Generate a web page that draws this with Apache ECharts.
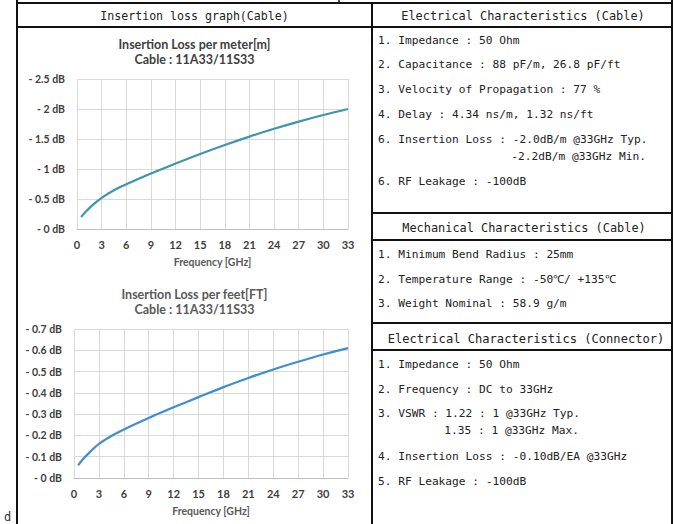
<!DOCTYPE html>
<html>
<head>
<meta charset="utf-8">
<script src="https://cdn.jsdelivr.net/npm/echarts@6/dist/echarts.min.js"></script>
<style>
html,body{margin:0;padding:0;background:#fff;}
#main{width:675px;height:524px;}
</style>
</head>
<body>
<div id="main"></div>
<script>
// ---- data ----
const freqGHz      = [0.5, 1, 2, 3, 4.5, 6, 9, 12, 15, 18, 21, 24, 27, 30, 33];
const lossPerMeter = [0.20, 0.28, 0.41, 0.52, 0.645, 0.745, 0.925, 1.09, 1.25, 1.40, 1.54, 1.67, 1.79, 1.90, 2.00];
const lossPerFoot  = [0.06, 0.085, 0.125, 0.16, 0.197, 0.228, 0.282, 0.332, 0.38, 0.427, 0.47, 0.51, 0.546, 0.58, 0.61];

const chartTitles = [
  ['Insertion Loss per meter[m]', 'Cable : 11A33/11S33'],
  ['Insertion Loss per feet[FT]', 'Cable : 11A33/11S33']
];
const xAxisName = 'Frequency [GHz]';

const leftHeader = 'Insertion loss graph(Cable)';
const elecCableHeader = 'Electrical Characteristics (Cable)';
const elecCableItems = [
  '1. Impedance : 50 Ohm',
  '2. Capacitance : 88 pF/m, 26.8 pF/ft',
  '3. Velocity of Propagation : 77 %',
  '4. Delay : 4.34 ns/m, 1.32 ns/ft',
  '6. Insertion Loss : -2.0dB/m @33GHz Typ.',
  '-2.2dB/m @33GHz Min.',
  '6. RF Leakage : -100dB'
];
const mechHeader = 'Mechanical Characteristics (Cable)';
const mechItems = [
  '1. Minimum Bend Radius : 25mm',
  '2. Temperature Range : -50℃/ +135℃',
  '3. Weight Nominal : 58.9 g/m'
];
const connHeader = 'Electrical Characteristics (Connector)';
const connItems = [
  '1. Impedance : 50 Ohm',
  '2. Frequency : DC to 33GHz',
  '3. VSWR : 1.22 : 1 @33GHz Typ.',
  '1.35 : 1 @33GHz Max.',
  '4. Insertion Loss : -0.10dB/EA @33GHz',
  '5. RF Leakage : -100dB'
];

// ---- layout ----
const MONO = "'DejaVu Sans Mono', 'Liberation Mono', monospace";
const CHF = "Lato, 'Open Sans', sans-serif";
const elecY = [40, 64, 89, 114, 139, 156, 181];
const elecX = [378, 378, 378, 378, 378, 646, 378];
const elecAlign = ['left', 'left', 'left', 'left', 'left', 'right', 'left'];
const mechY = [254, 279, 303];
const connY = [364, 389, 413, 430, 456, 481];
const connX = [378, 378, 378, 579, 378, 378];
const connAlign = ['left', 'left', 'left', 'right', 'left', 'left'];

function txt(x, y, s, opt) {
  return {
    type: 'text', x: x, y: y, silent: true,
    style: Object.assign({ text: s, fill: '#222', font: '11.2px ' + MONO, textVerticalAlign: 'middle', textAlign: 'left' }, opt || {})
  };
}
function ln(x1, y1, x2, y2, w) {
  return { type: 'line', silent: true, shape: { x1: x1, y1: y1, x2: x2, y2: y2 }, style: { stroke: '#111', lineWidth: w || 1.8 } };
}

const graphics = [];
// table lines
graphics.push(ln(17, 3, 673, 3, 2));
graphics.push(ln(17, 27, 673, 27, 1.8));
graphics.push(ln(17, 0, 17, 524, 2));
graphics.push(ln(372, 3, 372, 524, 2));
graphics.push(ln(672, 0, 672, 524, 2));
graphics.push(ln(339, 0, 339, 3, 1.5));
[213, 240, 323, 350].forEach(y => graphics.push(ln(372, y, 672, y, 1.8)));

// headers
graphics.push(txt(194.5, 16, leftHeader, { textAlign: 'center', font: '11.6px ' + MONO }));
graphics.push(txt(523, 16, elecCableHeader, { textAlign: 'center', font: '11.9px ' + MONO }));
graphics.push(txt(524, 228, mechHeader, { textAlign: 'center', font: '11.9px ' + MONO }));
graphics.push(txt(526, 339, connHeader, { textAlign: 'center', font: '12.1px ' + MONO }));
elecCableItems.forEach((s, i) => graphics.push(txt(elecX[i], elecY[i], s, { textAlign: elecAlign[i] })));
mechItems.forEach((s, i) => graphics.push(txt(378, mechY[i], s)));
connItems.forEach((s, i) => graphics.push(txt(connX[i], connY[i], s, { textAlign: connAlign[i] })));
graphics.push(txt(4, 517, 'd', { font: '12px ' + MONO, fill: '#333' }));

// chart titles
const TF = 'bold 12.5px ' + CHF;
graphics.push(txt(194.5, 44, chartTitles[0][0], { textAlign: 'center', font: TF, fill: '#404040' }));
graphics.push(txt(194.5, 59, chartTitles[0][1], { textAlign: 'center', font: TF, fill: '#404040' }));
graphics.push(txt(194.5, 294, chartTitles[1][0], { textAlign: 'center', font: TF, fill: '#595959' }));
graphics.push(txt(194.5, 309, chartTitles[1][1], { textAlign: 'center', font: TF, fill: '#595959' }));

function fmtDb(v) { return '- ' + parseFloat(v.toFixed(2)) + ' dB'; }

function xAx(gi) {
  return {
    type: 'value', gridIndex: gi, min: 0, max: 33, interval: 3,
    name: xAxisName, nameLocation: 'middle', nameGap: 27,
    nameTextStyle: { fontFamily: CHF, fontWeight: 'bold', fontSize: 10.5, color: '#595959' },
    axisLine: { show: true, lineStyle: { color: '#bfbfbf', width: 1 } },
    axisTick: { show: false },
    axisLabel: { margin: 10, fontFamily: CHF, fontWeight: 'bold', fontSize: 11, color: '#404040' },
    splitLine: { show: true, lineStyle: { color: '#d9d9d9', width: 1 } }
  };
}
function yAx(gi, max, interval) {
  return {
    type: 'value', gridIndex: gi, min: 0, max: max, interval: interval,
    axisLine: { show: false }, axisTick: { show: false },
    axisLabel: { margin: 12, fontFamily: CHF, fontWeight: 'bold', fontSize: 10.5, color: '#404040', formatter: fmtDb },
    splitLine: { show: true, lineStyle: { color: '#d9d9d9', width: 1 } }
  };
}

const chart = echarts.init(document.getElementById('main'), null, { renderer: 'svg' });
chart.setOption({
  animation: false,
  backgroundColor: '#fff',
  grid: [
    { left: 77, top: 79, width: 271, height: 150 },
    { left: 74, top: 329, width: 274, height: 149 }
  ],
  xAxis: [xAx(0), xAx(1)],
  yAxis: [yAx(0, 2.5, 0.5), yAx(1, 0.7, 0.1)],
  series: [
    {
      type: 'line', xAxisIndex: 0, yAxisIndex: 0, smooth: 0.3, showSymbol: false,
      data: freqGHz.map((f, i) => [f, lossPerMeter[i]]),
      lineStyle: { color: '#3e95ad', width: 2.2 }, itemStyle: { color: '#3e95ad' }
    },
    {
      type: 'line', xAxisIndex: 1, yAxisIndex: 1, smooth: 0.3, showSymbol: false,
      data: freqGHz.map((f, i) => [f, lossPerFoot[i]]),
      lineStyle: { color: '#3d8fd0', width: 2.2 }, itemStyle: { color: '#3d8fd0' }
    }
  ],
  graphic: graphics
});
</script>
</body>
</html>
